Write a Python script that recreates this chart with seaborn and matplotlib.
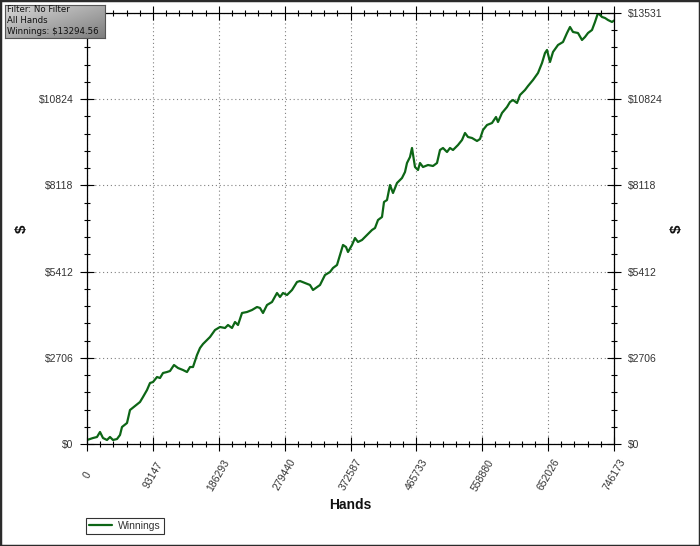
import numpy as np
import pandas as pd
import matplotlib
matplotlib.use("Agg")
import matplotlib.pyplot as plt
import seaborn as sns
from matplotlib.ticker import MultipleLocator
from matplotlib.colors import LinearSegmentedColormap
from matplotlib.patches import Rectangle

# cumulative winnings
hands = [0, 4248, 8495, 14159, 18407, 22654, 28318, 32565, 36813, 42477,
         46724, 49556, 56636, 60883, 67963, 75042, 79290, 84953, 89201, 93449,
         99112, 103360, 107608, 113271, 117519, 123182, 128846, 135925, 141589, 145836,
         150084, 155748, 159996, 164243, 174154, 181234, 188313, 195393, 199641, 205304,
         209552, 213799, 219463, 226542, 233622, 240701, 244949, 249197, 254860, 261940,
         269019, 273267, 277514, 283178, 290257, 297337, 301585, 308664, 315743, 319991,
         329902, 336982, 344061, 348309, 353973, 358220, 362468, 366716, 369547, 375211,
         379459, 383706, 389370, 396449, 403529, 407777, 412024, 417688, 420520, 424767,
         429015, 433263, 438926, 446005, 450253, 453085, 457332, 460164, 464412, 468659,
         471491, 475739, 482818, 489898, 495562, 499809, 504057, 509720, 513968, 518216,
         525295, 530959, 535206, 539454, 545118, 552197, 556445, 560692, 566356, 573435,
         579099, 581931, 587594, 594674, 598921, 603169, 608833, 613080, 620160, 624407,
         631487, 638566, 644230, 648478, 651309, 655557, 659805, 666884, 673964, 679627,
         683875, 688123, 695202, 700866, 705113, 709361, 715024, 719272, 723520, 729183,
         733431, 737679, 743342, 746173]
winnings = [126, 157, 188, 220, 377, 188, 126, 220, 126, 157,
            283, 534, 659, 1067, 1193, 1319, 1476, 1695, 1915, 1946,
            2103, 2072, 2229, 2260, 2292, 2480, 2386, 2323, 2260, 2417,
            2417, 2794, 3014, 3140, 3359, 3579, 3673, 3642, 3736, 3642,
            3830, 3736, 4113, 4144, 4207, 4301, 4270, 4113, 4364, 4458,
            4741, 4615, 4741, 4678, 4835, 5086, 5117, 5055, 4992, 4835,
            4992, 5306, 5400, 5526, 5620, 5934, 6248, 6185, 6028, 6248,
            6467, 6342, 6405, 6562, 6719, 6781, 7032, 7127, 7598, 7660,
            8131, 7880, 8194, 8351, 8539, 8822, 9010, 9293, 8696, 8602,
            8822, 8696, 8759, 8728, 8822, 9230, 9293, 9167, 9293, 9230,
            9387, 9544, 9764, 9638, 9607, 9513, 9575, 9858, 10015, 10078,
            10266, 10109, 10392, 10580, 10737, 10800, 10706, 10957, 11114, 11239,
            11428, 11648, 11961, 12275, 12370, 11993, 12307, 12527, 12621, 12903,
            13092, 12935, 12903, 12684, 12778, 12903, 12998, 13249, 13531, 13406,
            13374, 13311, 13249, 13294.56]

x_tick_labels = ["0", "93147", "186293", "279440", "372587",
                 "465733", "558880", "652026", "746173"]
y_tick_values = [0, 2706, 5412, 8118, 10824, 13531]
y_tick_labels = ["$0", "$2706", "$5412", "$8118", "$10824", "$13531"]
info_lines = ["Filter: No Filter", "All Hands", "Winnings: $13294.56"]

sns.set_style("white")
plt.rcParams['font.family'] = ['Liberation Sans', 'DejaVu Sans']

W, H = 700, 546
fig = plt.figure(figsize=(W / 100, H / 100), dpi=100)
fig.patch.set_facecolor("white")
ax = fig.add_axes([87 / W, 1 - 444 / H, 527 / W, 431 / H])

df = pd.DataFrame({"Hands": hands, "Winnings": winnings})
sns.lineplot(data=df, x="Hands", y="Winnings", ax=ax, color="#0d6616",
             linewidth=1.6, label="Winnings")

x_max = int(x_tick_labels[-1])
y_max = y_tick_values[-1]
ax.set_xlim(0, x_max)
ax.set_ylim(0, y_max)

ax.set_xticks(np.linspace(0, x_max, len(x_tick_labels)))
ax.set_xticklabels(x_tick_labels, rotation=60, ha="center", va="center")
ax.set_yticks(y_tick_values)
ax.set_yticklabels(y_tick_labels)
ax.xaxis.set_minor_locator(MultipleLocator(x_max / 40))
ax.yaxis.set_minor_locator(MultipleLocator(y_max / 25))

ax.tick_params(which="both", direction="inout", top=True, right=True,
               bottom=True, left=True, labelright=True, color="black",
               labelcolor="#333333", labelsize=7.5)
ax.tick_params(which="major", length=9.5, width=0.8)
ax.tick_params(which="minor", length=5, width=0.8)
ax.tick_params(axis="x", which="major", pad=17.5)
ax.tick_params(axis="y", which="major", pad=5)
# the top-left label sits under the info box in the original
ax.yaxis.get_major_ticks()[-1].label1.set_visible(False)

ax.grid(True, which="major", linestyle=(0, (1, 2.5)), color="#808080", linewidth=0.8)
for s in ax.spines.values():
    s.set_visible(True)
    s.set_color("black")
    s.set_linewidth(0.9)

ax.set_xlabel("Hands", fontsize=10, fontweight="bold", color="#111111")
ax.xaxis.set_label_coords(0.5, (444 - 505) / 431)
ax.xaxis.label.set_va("center")
ax.set_ylabel("$", fontsize=11, fontweight="bold", color="#111111")
ax.yaxis.set_label_coords((22 - 87) / 527, 0.5)
ax.yaxis.label.set_va("center")
ax.text((677 - 87) / 527, 0.5, "$", transform=ax.transAxes, rotation=90,
        ha="center", va="center", fontsize=11, fontweight="bold", color="#111111")

leg = ax.legend(loc="lower left", bbox_to_anchor=(86 / W, 1 - 534 / H),
                bbox_transform=fig.transFigure, frameon=True, fancybox=False,
                fontsize=7.5, handlelength=2.2, borderpad=0.3, borderaxespad=0,
                handletextpad=0.6)
leg.get_frame().set_edgecolor("black")
leg.get_frame().set_linewidth(0.8)
for t in leg.get_texts():
    t.set_color("#333333")

# info box top-left with grey gradient
iax = fig.add_axes([5 / W, 1 - 38 / H, 100 / W, 33 / H])
grad = np.add.outer(np.linspace(0, 1, 40), np.linspace(0, 1, 120)) / 2
cmap = LinearSegmentedColormap.from_list("box", ["#d8d8d8", "#7e7e7e"])
iax.imshow(grad, cmap=cmap, aspect="auto", extent=[0, 1, 0, 1])
iax.set_xticks([])
iax.set_yticks([])
for s in iax.spines.values():
    s.set_color("#555555")
    s.set_linewidth(0.8)
fig.text(7 / W, 1 - 5 / H, "\n".join(info_lines), ha="left", va="top",
         fontsize=6.2, family="DejaVu Sans", color="#111111", linespacing=1.28)

fig.patches.append(Rectangle((0, 0), 1, 1, transform=fig.transFigure, fill=False,
                             edgecolor="#2b2b2b", linewidth=2.5, zorder=10))

fig.savefig("out.png", dpi=100)
